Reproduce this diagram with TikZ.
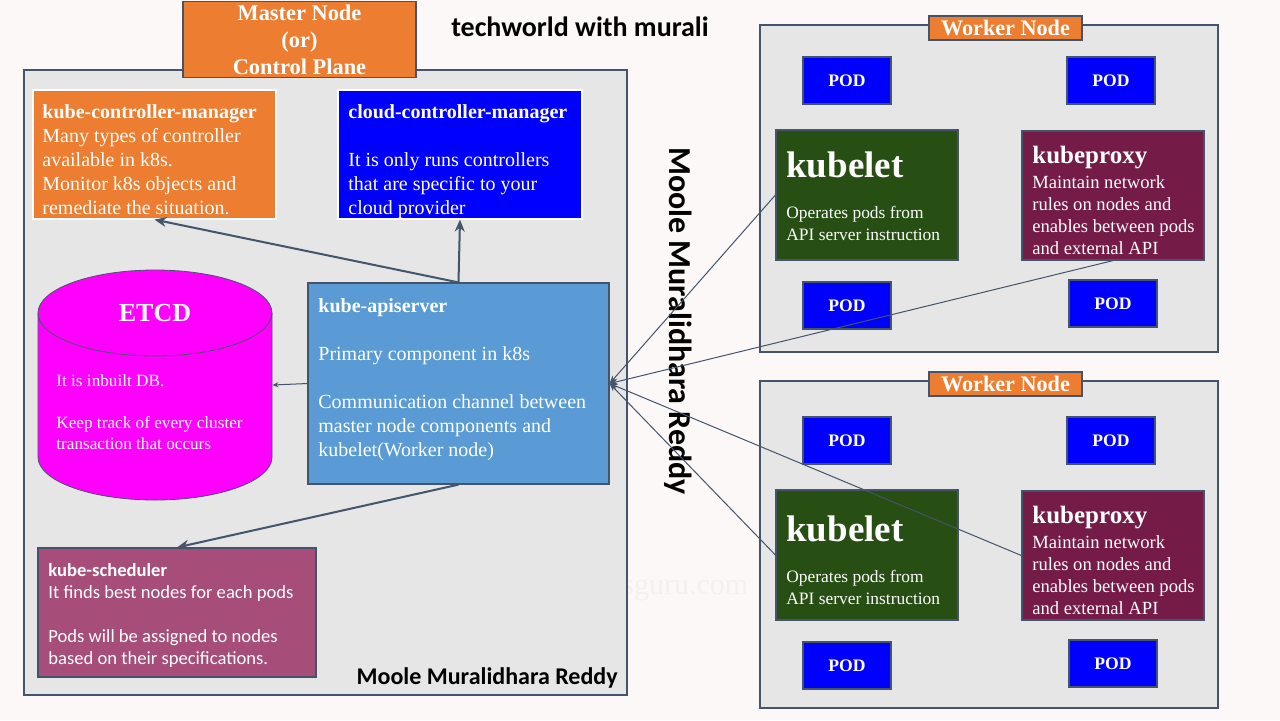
\documentclass[tikz,border=0pt]{standalone}
\usepackage{fontspec}
\setmainfont{Liberation Serif}
\newfontfamily\calibri{Carlito}
\usetikzlibrary{arrows.meta}

\definecolor{slate}{HTML}{44546A}
\definecolor{paper}{HTML}{FDF8F8}
\definecolor{panel}{HTML}{E6E6E6}
\definecolor{kcmorange}{HTML}{ED7D31}
\definecolor{apiblue}{HTML}{5B9BD5}
\definecolor{schedpink}{HTML}{A64D79}
\definecolor{letgreen}{HTML}{274E13}
\definecolor{proxyred}{HTML}{741B47}
\definecolor{podblue}{HTML}{0000FF}
\definecolor{etcdpink}{HTML}{FF00FF}

\begin{document}
\begin{tikzpicture}[x=0.5pt, y=-0.5pt,
    box/.style={draw=slate, line width=0.6pt, inner sep=0pt, text=white},
    txt/.style={text=white, align=left, inner sep=0pt, anchor=base west},
    link/.style={draw=slate, line width=1pt, -{Stealth[length=6pt, width=5pt]}},
    wire/.style={draw=slate, line width=0.5pt, {Stealth[length=4pt, width=3pt]}-}]

    \fill[paper] (0,0) rectangle (1280,720);
    \useasboundingbox (0,0) rectangle (1280,720);

    % watermark
    \node[text=paper!97!black, font=\fontsize{15}{15}\selectfont, anchor=west, inner sep=0pt] (mark) at (622,590) {sguru.com};

    % Master node
    \node[box, fill=panel, minimum width=301.5pt, minimum height=312.5pt] (master) at (325.5,382.5) {};
    \node[box, fill=kcmorange, minimum width=116.5pt, minimum height=38pt, align=center,
          font=\bfseries\fontsize{11.2}{13.5}\selectfont] (mastertitle) at (299.5,39.5) {Master Node\\(or)\\Control Plane};
    \node[font=\calibri\bfseries\fontsize{14}{16}\selectfont] (brand) at (580,27) {techworld with murali};

    % kube-controller-manager
    \node[box, draw=white, fill=kcmorange, minimum width=121.5pt, minimum height=64.5pt] (kcm) at (154.5,154.5) {};
    \node[txt, font=\fontsize{10}{12}\selectfont] (kcm-text) at (42,214)
        {\textbf{kube-controller-manager}\\Many types of controller\\available in k8s.\\Monitor k8s objects and\\remediate the situation.};

    % cloud-controller-manager
    \node[box, draw=white, fill=podblue, minimum width=122pt, minimum height=64.5pt] (ccm) at (460,154.5) {};
    \node[txt, font=\fontsize{10}{12}\selectfont] (ccm-text) at (348,214)
        {\textbf{cloud-controller-manager}\\[12pt]It is only runs controllers\\that are specific to your\\cloud provider};

    % ETCD
    \filldraw[fill=etcdpink, draw=slate, line width=0.4pt] (38,313) -- (38,457)
        arc[start angle=180, end angle=0, x radius=117, y radius=43] -- (272,313);
    \filldraw[fill=etcdpink, draw=slate, line width=0.4pt] (155,313) ellipse [x radius=117, y radius=43];
    \node[inner sep=0pt, minimum width=117pt, minimum height=115pt] (etcd) at (155,385) {};
    \node[text=white, font=\bfseries\fontsize{13}{15}\selectfont] (etcd-title) at (155,313) {ETCD};
    \node[txt, font=\fontsize{8.6}{10.5}\selectfont] (etcd-text) at (56,449)
        {It is inbuilt DB.\\[10.5pt]Keep track of every cluster\\transaction that occurs};

    % kube-apiserver
    \node[box, fill=apiblue, minimum width=150.5pt, minimum height=100.5pt] (api) at (458.5,383.5) {};
    \node[txt, font=\fontsize{10}{12}\selectfont] (api-text) at (318,456)
        {\textbf{kube-apiserver}\\[12pt]Primary component in k8s\\[12pt]Communication channel between\\master node components and\\kubelet(Worker node)};

    % kube-scheduler
    \node[box, fill=schedpink, minimum width=139pt, minimum height=64.5pt] (sched) at (177,612.5) {};
    \node[txt, font=\calibri\fontsize{9.3}{11}\selectfont] (sched-text) at (48,664)
        {\textbf{kube-scheduler}\\It finds best nodes for each pods\\[11pt]Pods will be assigned to nodes\\based on their specifications.};

    \node[anchor=base east, inner sep=0pt, font=\calibri\bfseries\fontsize{12}{14}\selectfont] (sign) at (618,684) {Moole Muralidhara Reddy};
    \node[rotate=-90, inner sep=0pt, font=\calibri\bfseries\fontsize{16}{18}\selectfont] (sign-v) at (678,321) {Moole Muralidhara Reddy};

    % Worker nodes
    \foreach \w/\dy/\by/\ky in {1/0/0/0, 2/360/356/364} {
        \node[box, fill=panel, minimum width=229pt, minimum height=163.5pt] (worker\w) at (989,{188.5+\by}) {};
        \node[box, fill=kcmorange, minimum width=76.5pt, minimum height=12pt,
              font=\bfseries\fontsize{11.1}{13}\selectfont] (wtitle\w) at (1005.5,{28+\by}) {Worker Node};
        \foreach \px/\py [count=\p] in {803/57, 1067/57, 803/282, 1069/280}
            \node[box, fill=podblue, minimum width=44pt, minimum height=23.5pt,
                  font=\bfseries\fontsize{8.8}{10}\selectfont] (pod\w\p) at ({\px+44},{\py+23.5+\dy}) {POD};
        \node[box, fill=letgreen, minimum width=91pt, minimum height=65pt] (kubelet\w) at (867,{195+\dy}) {};
        \node[txt, font=\bfseries\fontsize{18.5}{20}\selectfont] (kubelet\w-title) at (786,{177+\ky}) {kubelet};
        \node[txt, font=\fontsize{8.7}{10.8}\selectfont] (kubelet\w-text) at (786,{240+\ky})
            {Operates pods from\\API server instruction};
        \node[box, fill=proxyred, minimum width=91pt, minimum height=64.5pt] (proxy\w) at (1113,{195.5+\dy}) {};
        \node[txt, font=\bfseries\fontsize{12.5}{14}\selectfont] (proxy\w-title) at (1032,{163+\dy}) {kubeproxy};
        \node[txt, font=\fontsize{9.3}{11}\selectfont] (proxy\w-text) at (1032,{254+\dy})
            {Maintain network\\rules on nodes and\\enables between pods\\and external API};
    }

    % Connectors
    \draw[link] (api.north) -- (ccm.south);
    \draw[link] (api.north) -- (kcm.south);
    \draw[link] (api.south) -- (sched.north);
    \draw[link, line width=0.5pt, -{Stealth[length=3pt, width=2.5pt]}] (api.west) -- (etcd.east);
    \draw[wire] (api.east) -- (kubelet1.west);
    \draw[wire] (api.east) -- (proxy1.south);
    \draw[wire] (api.east) -- (kubelet2.west);
    \draw[wire] (api.east) -- (proxy2.west);
\end{tikzpicture}
\end{document}
